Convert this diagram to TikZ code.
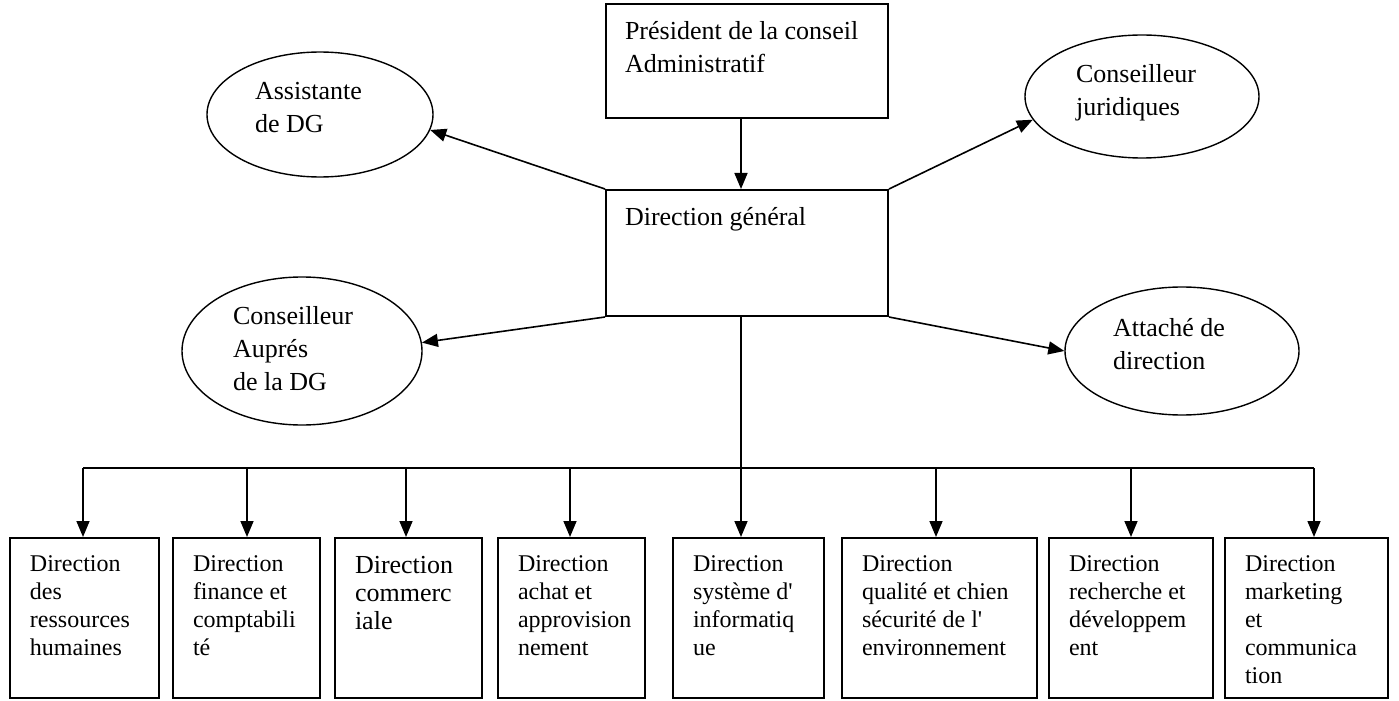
\documentclass[tikz,border=0pt]{standalone}
\usepackage{fontspec}
\setmainfont{Liberation Serif}[Ligatures=TeXOff]
\usetikzlibrary{arrows.meta,shapes.geometric}
\tikzset{
  topbox/.style={draw, line width=1pt, anchor=north west, inner xsep=9.5pt, inner ysep=8.5pt,
    font=\fontsize{13}{16.5}\selectfont},
  dirbox/.style={draw, line width=1pt, anchor=north west, inner xsep=10pt, inner ysep=9pt},
  ellip/.style={draw, ellipse, line width=0.7pt, inner sep=0pt, font=\fontsize{13}{16.5}\selectfont},
  conn/.style={line width=0.8pt},
  arr/.style={conn, -{Triangle[length=8pt,width=6.5pt]}}
}
\newcommand{\dbox}[5]{%
  \node[dirbox, font=\fontsize{#4}{14}\selectfont] (#1) at (#2,537)
    {\parbox[t][62pt][t]{\dimexpr #3pt/2-20pt\relax}{\raggedright #5}};}
\newcommand{\etext}[3]{\begin{tabular}{@{}l@{\hspace{#1}}}#3\\[#2]\end{tabular}}
\begin{document}
\begin{tikzpicture}[x=0.5pt, y=-0.5pt]
\useasboundingbox (0,0) rectangle (1399,701);
% top boxes
\node[topbox] (pres) at (605,3)
  {\parbox[t][40pt][t]{122pt}{\raggedright Président de la conseil\\Administratif}};
\node[topbox] (dg) at (605,189)
  {\parbox[t][46pt][t]{122pt}{\raggedright Direction général}};
% ellipses
\node[ellip, minimum width=113pt, minimum height=62.5pt] (asst) at (320,114.5)
  {\etext{11.5pt}{5.5pt}{Assistante\\de DG}};
\node[ellip, minimum width=117pt, minimum height=61.5pt] (jur) at (1142,96.5)
  {\etext{6pt}{4pt}{Conseilleur\\juridiques}};
\node[ellip, minimum width=120pt, minimum height=74pt] (aup) at (302,351)
  {\etext{9pt}{0pt}{Conseilleur\\Auprés\\de la DG}};
\node[ellip, minimum width=117pt, minimum height=64pt] (att) at (1182,351)
  {\etext{13pt}{5pt}{Attaché de\\direction}};
% bottom boxes
\dbox{b1}{9}{149}{12}{Direction\\des\\ressources\\humaines}
\dbox{b2}{172}{147}{12}{Direction\\finance et\\comptabili\\té}
\dbox{b3}{334}{147}{13}{Direction\\commerc\\iale}
\dbox{b4}{497}{147}{12}{Direction\\achat et\\approvision\\nement}
\dbox{b5}{672}{151}{12}{Direction\\système d'\\informatiq\\ue}
\dbox{b6}{841}{195}{12}{Direction\\qualité et chien\\sécurité de l'\\environnement}
\dbox{b7}{1048}{164}{12}{Direction\\recherche et\\développem\\ent}
\dbox{b8}{1224}{163}{12}{Direction\\marketing\\et\\communica\\tion}
% axis and bus
\coordinate (axis) at (741,0);
\coordinate (d1) at (83,468);
\coordinate (d2) at (247,468);
\coordinate (d3) at (406,468);
\coordinate (d4) at (570,468);
\coordinate (d5) at (741,468);
\coordinate (d6) at (936,468);
\coordinate (d7) at (1131,468);
\coordinate (d8) at (1314,468);
% connectors
\draw[arr] (pres.south -| axis) -- (dg.north -| axis);
\draw[arr] (dg.north west) -- (asst.-8.7);
\draw[arr] (dg.north east) -- (jur.192);
\draw[arr] (dg.south west) -- (aup.4);
\draw[arr] (dg.south east) -- (att.180.5);
\draw[conn] (dg.south -| axis) -- (d5);
\draw[conn] (d1) -- (d8);
\foreach \i in {1,...,8} {\draw[arr] (d\i) -- (d\i |- b\i.north);}
\end{tikzpicture}
\end{document}
